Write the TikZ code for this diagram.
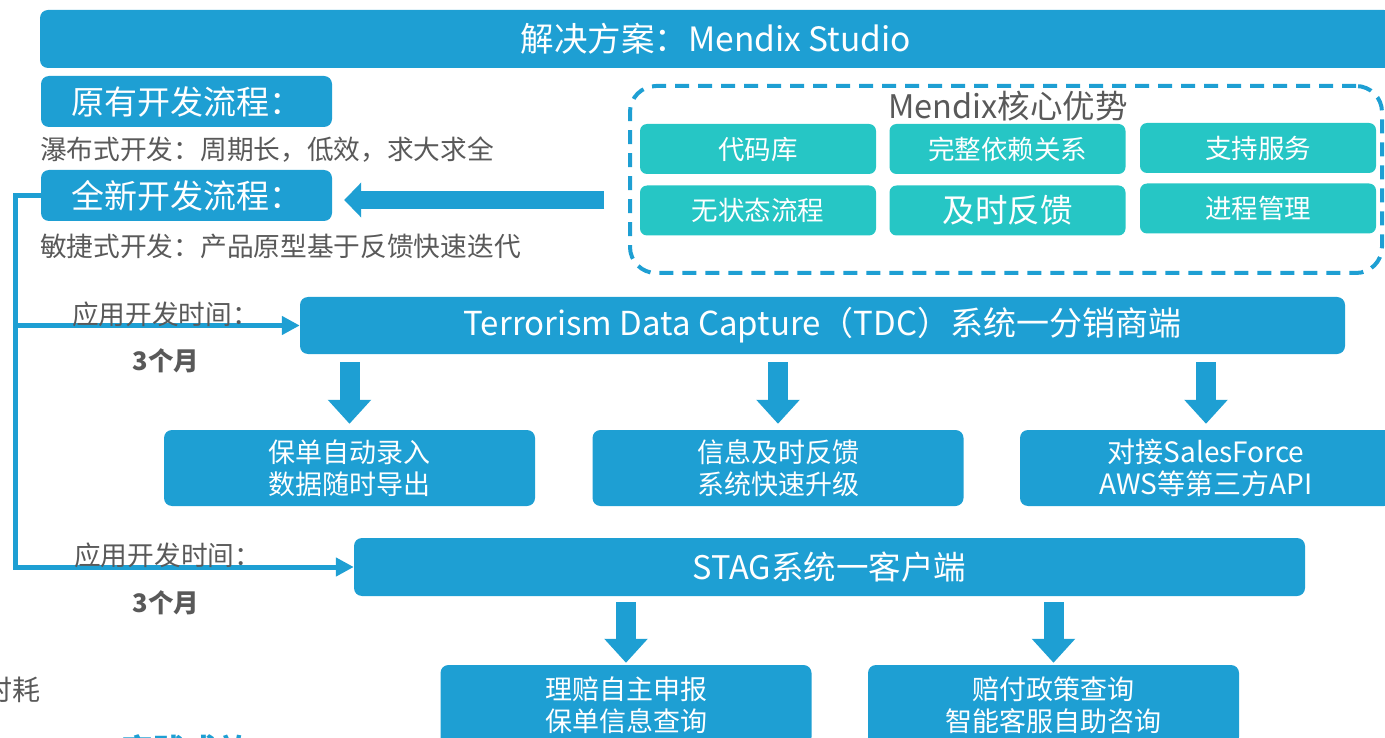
\documentclass[tikz,border=0pt]{standalone}
\usepackage{fontspec}
\setmainfont{Noto Sans CJK SC}
\usetikzlibrary{arrows.meta,calc}
\definecolor{mblue}{RGB}{30,159,211}
\definecolor{mteal}{RGB}{38,198,197}
\definecolor{mgray}{RGB}{89,89,89}
\newcommand{\fs}[2]{\fontsize{#1}{#2}\selectfont}
\begin{document}
\begin{tikzpicture}[x=1pt,y=-1pt,
  bluebox/.style={fill=mblue, rounded corners=8pt, text=white, inner sep=0pt, align=center},
  tealbox/.style={fill=mteal, rounded corners=7pt, text=white, inner sep=0pt, minimum width=236pt, minimum height=50pt, font=\fs{26.5}{30}},
  graytext/.style={text=mgray, inner sep=0pt, anchor=west, font=\fs{26.7}{30}},
  conn/.style={draw=mblue, line width=5pt, -{Triangle[length=18pt,width=18pt]}},
  downarrow/.style={draw=mblue, line width=20pt, -{Triangle[length=24pt,width=42pt]}},
  leftarrow/.style={draw=mblue, line width=18pt, -{Triangle[length=17pt,width=34pt]}},
  rowbox/.style={bluebox, minimum width=371pt, minimum height=76pt, font=\fs{27}{32}},
]
\useasboundingbox (0,0) rectangle (1385,738);
\clip (0,0) rectangle (1385,738);

% title
\node[bluebox, minimum width=1352pt, minimum height=58pt, font=\fs{33.5}{38}] (title) at (716,39) {解决方案：Mendix Studio};

% left column
\node[bluebox, minimum width=291pt, minimum height=51pt, font=\fs{33}{36}] (old) at (186.5,101.5) {原有开发流程：};
\node[graytext] (d1) at (40,150) {瀑布式开发：周期长，低效，求大求全};
\node[bluebox, minimum width=291pt, minimum height=51pt, font=\fs{33}{36}] (new) at (186.5,195.5) {全新开发流程：};
\node[graytext] (d2) at (40,246) {敏捷式开发：产品原型基于反馈快速迭代};

% advantages
\node[draw=mblue, line width=4pt, dash pattern=on 14pt off 9pt, rounded corners=26pt, minimum width=752pt, minimum height=187pt, inner sep=0pt] (adv) at (1006,179.5) {};
\node[text=mgray, font=\fs{32.5}{36}, inner sep=0pt] (advt) at (1008,106) {Mendix核心优势};
\node[tealbox] (t1) at (758,149) {代码库};
\node[tealbox] (t2) at (1007.5,149) {完整依赖关系};
\node[tealbox] (t3) at (1258,148) {支持服务};
\node[tealbox] (t4) at (758,210.5) {无状态流程};
\node[tealbox, font=\fs{32.5}{36}] (t5) at (1007.5,210.5) {及时反馈};
\node[tealbox] (t6) at (1258,208.5) {进程管理};

\draw[leftarrow] ([xshift=-24pt,yshift=-4.5pt]adv.west |- new.east) -- ([xshift=12pt,yshift=-4.5pt]new.east);

% systems
\node[bluebox, minimum width=1045pt, minimum height=57pt, font=\fs{33}{36}] (tdc) at (822.5,325.5) {Terrorism Data Capture（TDC）系统一分销商端};
\node[bluebox, minimum width=951pt, minimum height=58pt, font=\fs{32.5}{36}] (stag) at (829.5,567) {STAG系统一客户端};

\draw[conn] (new.west) -- ++(-25,0) |- (tdc.west);
\draw[conn] (new.west) -- ++(-25,0) |- (stag.west);

\node[graytext] (l1) at (72,314) {应用开发时间：};
\node[text=mgray, inner sep=0pt, font=\fs{25.5}{28}\bfseries] (m1) at (166,361) {3个月};
\node[graytext] (l2) at (74,555) {应用开发时间：};
\node[text=mgray, inner sep=0pt, font=\fs{25.5}{28}\bfseries] (m2) at (166,603) {3个月};

% feature boxes
\node[rowbox] (b1) at (349.5,468) {保单自动录入\\数据随时导出};
\node[rowbox] (b2) at (778,468) {信息及时反馈\\系统快速升级};
\node[rowbox, minimum width=372pt, font=\fs{28}{32}] (b3) at (1206,468) {对接SalesForce\\AWS等第三方API};
\node[rowbox, minimum height=80pt] (b4) at (626,705) {理赔自主申报\\保单信息查询};
\node[rowbox, minimum height=80pt] (b5) at (1053.5,705) {赔付政策查询\\智能客服自助咨询};

\foreach \b in {b1,b2,b3}
  \draw[downarrow] ([yshift=-8pt]tdc.south -| \b.north) -- ([yshift=6pt]\b.north);
\foreach \b in {b4,b5}
  \draw[downarrow] ([yshift=-6pt]stag.south -| \b.north) -- ([yshift=2pt]\b.north);

% partially visible texts at the edges
\node[graytext, font=\fs{28}{30}] (cut1) at (-16,690) {时耗};
\node[text=mblue, inner sep=0pt, font=\fs{32}{38}\bfseries] (cut2) at (185,750) {实践成效};
\end{tikzpicture}
\end{document}
